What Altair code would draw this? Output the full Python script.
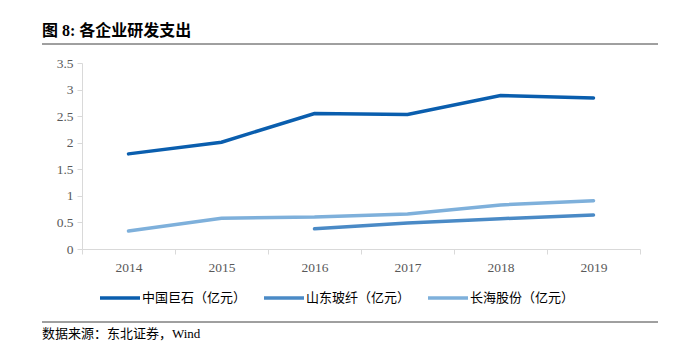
import altair as alt
import pandas as pd

years = ["2014", "2015", "2016", "2017", "2018", "2019"]
series_names = ["中国巨石（亿元）", "山东玻纤（亿元）", "长海股份（亿元）"]
jushi = [1.79, 2.01, 2.55, 2.53, 2.89, 2.84]
shandong = [None, None, 0.38, 0.49, 0.57, 0.64]
changhai = [0.34, 0.58, 0.60, 0.66, 0.83, 0.91]
colors = ["#0A5EAE", "#4A8AC6", "#7EB0DB"]

rows = []
for name, vals in zip(series_names, [jushi, shandong, changhai]):
    for y, v in zip(years, vals):
        if v is not None:
            rows.append({"year": y, "series": name, "value": v})
df = pd.DataFrame(rows)

SERIF = "Liberation Serif, Noto Sans CJK SC"

lines = alt.Chart(df).mark_line(strokeWidth=3.5, strokeCap="round").encode(
    x=alt.X("year:N", sort=years, title=None,
            scale=alt.Scale(paddingInner=0, paddingOuter=0),
            axis=alt.Axis(labelAngle=0, tickBand="extent", domainColor="#D9D9D9",
                          tickColor="#D9D9D9", tickSize=5, labelFont=SERIF,
                          labelFontSize=13.5, labelColor="#595959", labelPadding=6)),
    y=alt.Y("value:Q", title=None,
            scale=alt.Scale(domain=[0, 3.5], nice=False),
            axis=alt.Axis(values=[0, 0.5, 1, 1.5, 2, 2.5, 3, 3.5], format="~g",
                          grid=False, domainColor="#D9D9D9", tickColor="#D9D9D9",
                          tickSize=5, labelFont=SERIF, labelFontSize=13.5,
                          labelColor="#595959", labelPadding=4)),
    color=alt.Color("series:N", sort=series_names,
                    scale=alt.Scale(domain=series_names, range=colors),
                    legend=alt.Legend(title=None, orient="none", direction="horizontal",
                                      legendX=16, legendY=213,
                                      symbolType="stroke", symbolSize=1600,
                                      symbolStrokeWidth=3.5, labelFont="Noto Sans CJK SC",
                                      labelFontSize=13, labelColor="#000000",
                                      columnPadding=10, labelOffset=0)),
)

one = alt.Data(values=[{"a": 1}])
title = alt.Chart(one).mark_text(text="图 8:  各企业研发支出", font=SERIF, fontSize=16,
                                 fontWeight="bold", align="left", baseline="middle",
                                 color="#000000").encode(x=alt.value(-40), y=alt.value(-32))
rule1 = alt.Chart(one).mark_rule(color="#404040", strokeWidth=1).encode(
    x=alt.value(-40), x2=alt.value(576), y=alt.value(-19))
rule2 = alt.Chart(one).mark_rule(color="#404040", strokeWidth=1).encode(
    x=alt.value(-40), x2=alt.value(576), y=alt.value(259))
source = alt.Chart(one).mark_text(text="数据来源：东北证券，Wind", font=SERIF, fontSize=13,
                                  align="left", baseline="middle",
                                  color="#000000").encode(x=alt.value(-40), y=alt.value(271))

chart = alt.layer(lines, title, rule1, rule2, source).properties(
    width=558, height=186,
    autosize=alt.AutoSizeParams(type="none"),
    padding={"left": 82, "top": 63, "right": 34, "bottom": 104},
    background="white",
).configure_view(stroke=None)

chart.save("out.html", embed_options={"renderer": "svg", "actions": False})
